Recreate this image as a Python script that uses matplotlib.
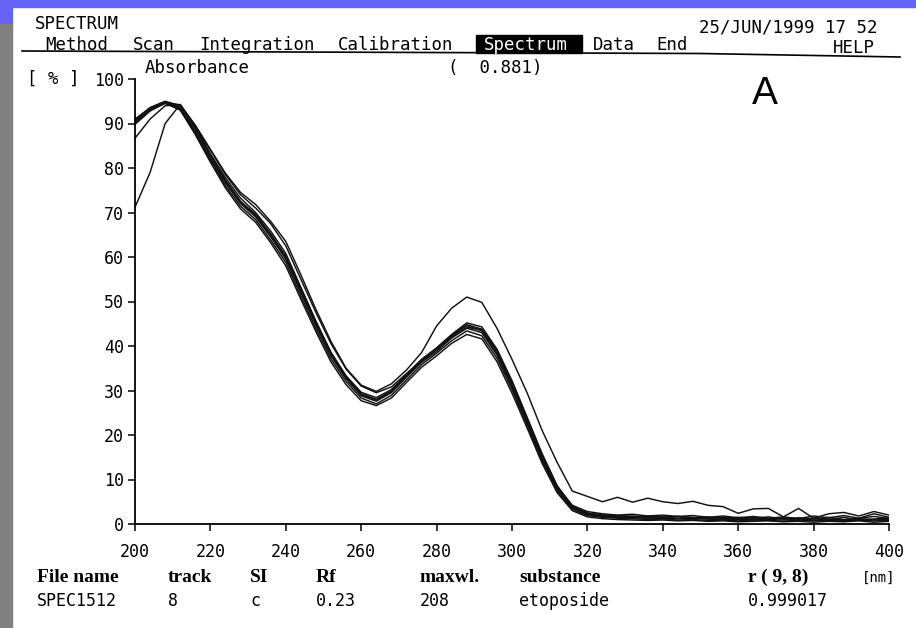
import matplotlib.pyplot as plt
from matplotlib.patches import Rectangle
from matplotlib.lines import Line2D

W, H = 916, 628
MONO = 'DejaVu Sans Mono'

# spectra, one value every 4 nm
wavelength = list(range(200, 401, 4))

track1 = [90.8, 93.6, 95.0, 94.0, 89.5, 84.0, 78.5, 74.0, 71.0, 67.5, 62.5, 55.0, 47.5,
          40.5, 34.8, 31.0, 29.5, 30.8, 33.8, 36.8, 39.3, 42.0, 44.2, 43.6, 39.2, 32.2,
          24.0, 15.8, 8.6, 4.0, 2.4, 2.0, 1.8, 1.8, 1.6, 1.5, 1.7, 1.4, 1.3, 1.5, 1.2,
          1.4, 1.1, 1.3, 1.0, 1.2, 1.1, 0.9, 1.2, 1.0, 1.1]
track2 = [90.5, 93.2, 94.8, 93.3, 88.2, 82.2, 76.6, 72.0, 69.0, 64.5, 59.5, 52.0, 44.6,
          37.8, 32.6, 28.8, 27.6, 29.5, 33.0, 36.3, 38.8, 41.8, 44.0, 43.0, 38.0, 30.8,
          22.8, 14.6, 7.8, 3.6, 2.1, 1.7, 1.5, 1.4, 1.3, 1.3, 1.2, 1.2, 1.1, 1.0, 1.0,
          1.1, 1.0, 0.9, 1.0, 0.9, 1.0, 0.8, 0.9, 1.0, 0.9]
track3 = [89.8, 92.8, 94.6, 93.0, 87.5, 81.3, 75.5, 70.8, 67.8, 63.2, 58.0, 50.5, 43.2,
          36.4, 31.3, 27.7, 26.6, 28.3, 31.8, 35.2, 37.8, 40.6, 42.6, 41.6, 36.5, 29.4,
          21.6, 13.6, 7.0, 3.0, 1.6, 1.2, 1.0, 0.9, 0.8, 0.9, 0.7, 0.8, 0.6, 0.7, 0.5,
          0.6, 0.7, 0.5, 0.6, 0.4, 0.6, 0.5, 0.7, 0.4, 0.6]
track4 = [91.0, 93.5, 94.9, 93.6, 88.7, 82.8, 77.3, 72.5, 69.6, 65.2, 60.2, 52.8, 45.2,
          38.3, 33.0, 29.3, 28.0, 29.9, 33.4, 36.8, 39.4, 42.4, 44.8, 43.8, 38.8, 31.4,
          23.3, 15.0, 8.2, 3.9, 2.5, 2.0, 1.9, 1.6, 1.8, 1.5, 1.7, 1.4, 1.6, 1.2, 1.5,
          1.3, 1.6, 1.1, 1.4, 1.2, 1.5, 1.0, 1.3, 1.7, 1.2]
track5 = [86.7, 91.0, 94.0, 94.2, 89.0, 82.8, 77.0, 72.3, 69.3, 64.8, 59.8, 52.3, 44.9,
          38.0, 32.8, 29.0, 27.9, 29.7, 33.2, 36.6, 39.2, 42.2, 44.6, 43.4, 38.4, 31.1,
          23.1, 14.8, 8.0, 3.7, 2.2, 1.8, 1.6, 1.5, 1.4, 1.6, 1.3, 1.5, 1.2, 1.1, 1.3,
          0.9, 1.2, 1.4, 0.8, 1.3, 1.0, 1.5, 0.9, 1.1, 1.4]
track6 = [71.2, 79.0, 90.0, 94.3, 89.4, 83.2, 77.8, 73.2, 70.0, 65.8, 60.8, 53.2, 45.6,
          38.6, 33.3, 29.6, 28.4, 30.2, 33.6, 37.0, 39.6, 42.6, 45.2, 44.3, 39.3, 32.0,
          23.8, 15.4, 8.4, 4.2, 2.8, 2.3, 2.0, 2.2, 1.8, 2.0, 1.7, 1.9, 1.5, 1.8, 1.4,
          1.7, 1.3, 1.6, 1.2, 1.8, 1.4, 1.9, 1.3, 2.3, 1.5]
track7 = [90.2, 93.0, 94.7, 94.2, 89.6, 84.2, 78.8, 74.5, 71.8, 68.0, 63.5, 56.0, 48.2,
          41.0, 35.0, 31.2, 29.8, 31.5, 34.6, 38.5, 44.5, 48.5, 51.0, 49.8, 44.0, 37.0,
          29.5, 21.0, 13.8, 7.4, 6.2, 5.0, 6.0, 4.9, 5.8, 5.0, 4.6, 5.1, 4.2, 3.9, 2.4,
          3.4, 3.5, 1.6, 3.5, 1.3, 2.3, 2.6, 1.8, 2.8, 2.0]
track8 = [90.3, 93.0, 94.5, 93.1, 87.9, 81.8, 76.0, 71.4, 68.4, 63.8, 58.8, 51.2, 43.9,
          37.1, 32.0, 28.3, 27.0, 28.9, 32.4, 35.8, 38.4, 41.2, 43.4, 42.3, 37.3, 30.2,
          22.2, 14.1, 7.4, 3.3, 1.9, 1.5, 1.3, 1.2, 1.0, 1.1, 0.9, 1.0, 0.8, 0.9, 0.7,
          0.9, 0.8, 0.6, 0.9, 0.7, 0.8, 0.6, 0.9, 0.7, 0.8]
tracks = [track1, track2, track3, track4, track5, track6, track7, track8]

x_ticks = list(range(200, 401, 20))
y_ticks = list(range(0, 101, 10))

menu_items = ['Method', 'Scan', 'Integration', 'Calibration', 'Spectrum', 'Data', 'End']
menu_x = [45, 133, 199, 338, 484, 593, 656]

table_head = ['File name', 'track', 'SI', 'Rf', 'maxwl.', 'substance', 'r ( 9, 8)']
table_row = ['SPEC1512', '8', 'c', '0.23', '208', 'etoposide', '0.999017']
table_x = [37, 168, 250, 316, 420, 519, 748]


def fx(x):
    return x / W


def fy(y):
    return 1 - y / H


fig = plt.figure(figsize=(W / 100, H / 100), dpi=100)
fig.patch.set_facecolor('white')

# screen-capture border
fig.patches.append(Rectangle((0, fy(7)), 1, 7 / H, color='#6464f6', transform=fig.transFigure))
fig.patches.append(Rectangle((0, fy(24)), fx(12), 17 / H, color='#6464f6', transform=fig.transFigure))
fig.patches.append(Rectangle((0, 0), fx(12), fy(24), color='#808080', transform=fig.transFigure))

ax = fig.add_axes([fx(135), 1 - 524 / H, (889 - 135) / W, (524 - 79) / H])
for t in tracks:
    ax.plot(wavelength, t, color='#111111', lw=1.05)

ax.set_xlim(200, 400)
ax.set_ylim(0, 100)
ax.set_xticks(x_ticks)
ax.set_yticks(y_ticks)
ax.spines['top'].set_visible(False)
ax.spines['right'].set_visible(False)
for s in ['left', 'bottom']:
    ax.spines[s].set_linewidth(1.3)
ax.tick_params(direction='out', length=5, width=1.1, labelsize=12)
ax.tick_params(axis='x', pad=9)
ax.tick_params(axis='y', pad=3)
for lab in ax.get_xticklabels() + ax.get_yticklabels():
    lab.set_family(MONO)

# header lines
fig.text(fx(35), fy(24), 'SPECTRUM', family=MONO, fontsize=12.5, va='center')
fig.text(fx(699), fy(27), '25/JUN/1999 17 52', family=MONO, fontsize=12.5, va='center')
fig.patches.append(Rectangle((fx(476), fy(53)), 106 / W, 18 / H, color='black',
                             transform=fig.transFigure))
for item, x in zip(menu_items, menu_x):
    c = 'white' if item == 'Spectrum' else 'black'
    fig.text(fx(x), fy(45), item, family=MONO, fontsize=12.5, va='center', color=c)
fig.text(fx(833), fy(48), 'HELP', family=MONO, fontsize=12.5, va='center')
fig.add_artist(Line2D([fx(22), fx(700), fx(900)], [fy(51), fy(53.5), fy(57)],
                      color='black', lw=1.2))

fig.text(fx(145), fy(68), 'Absorbance', family=MONO, fontsize=12.5, va='center')
fig.text(fx(448), fy(68), '(  0.881)', family=MONO, fontsize=12.5, va='center')
fig.text(fx(27), fy(79), '[ % ]', family=MONO, fontsize=12.5, va='center')
fig.text(fx(765), fy(94), 'A', family='Liberation Sans', fontsize=28, ha='center', va='center')

# info table under the plot
for txt, x in zip(table_head, table_x):
    fig.text(fx(x), fy(577), txt, family='Liberation Serif', fontweight='bold',
             fontsize=14, va='center')
fig.text(fx(862), fy(578), '[nm]', family=MONO, fontsize=10, va='center')
for txt, x in zip(table_row, table_x):
    fig.text(fx(x), fy(601), txt, family=MONO, fontsize=12, va='center')

fig.savefig('out.png', dpi=100)
